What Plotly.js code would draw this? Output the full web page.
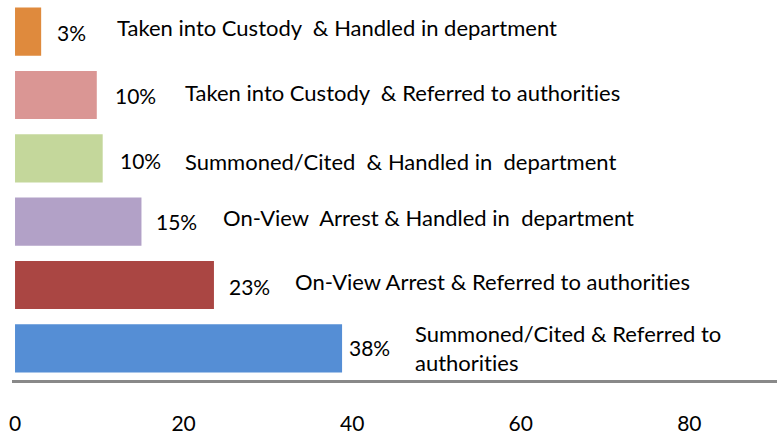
<!DOCTYPE html>
<html>
<head>
<meta charset="utf-8">
<script src="https://cdn.plot.ly/plotly-3.0.1.min.js"></script>
<style>html,body{margin:0;padding:0;background:#fff;}#chart{width:777px;height:434px;}text{font-variant-ligatures:none;font-feature-settings:"liga" 0;}</style>
</head>
<body>
<div id="chart"></div>
<script>
// ---- data ----
var categories = [
  "Taken into Custody & Handled in department",
  "Taken into Custody & Referred to authorities",
  "Summoned/Cited & Handled in department",
  "On-View Arrest & Handled in department",
  "On-View Arrest & Referred to authorities",
  "Summoned/Cited & Referred to authorities"
];
var values = [3.1, 9.7, 10.4, 15.0, 23.6, 38.8];
var pctLabels = ["3%", "10%", "10%", "15%", "23%", "38%"];
var categoryLabels = [
  "Taken into Custody &nbsp;& Handled in department",
  "Taken into Custody &nbsp;& Referred to authorities",
  "Summoned/Cited &nbsp;& Handled in &nbsp;department",
  "On-View &nbsp;Arrest & Handled in &nbsp;department",
  "On-View Arrest & Referred to authorities",
  "Summoned/Cited & Referred to<br>authorities"
];
var tickVals = [0, 20, 40, 60, 80];

// ---- style ----
var colors = ["#DF8A3D", "#DA9694", "#C4D79B", "#B2A1C7", "#AA4643", "#558ED5"];
var pctShiftX = [14, 16, 15, 13, 13, 5];
var pctShiftY = [-1, 0, -2, 0, -1, 1];
var catShiftX = [74, 86, 80, 80, 79, 71];
var catShiftY = [4, 3, -3, 4, 4, 0];
var FONT = "Lato, 'Open Sans', sans-serif";

var annotations = [];
for (var i = 0; i < categories.length; i++) {
  annotations.push({
    x: values[i], y: categories[i], xref: "x", yref: "y",
    text: pctLabels[i], showarrow: false, xanchor: "left", yanchor: "middle",
    xshift: pctShiftX[i], yshift: pctShiftY[i],
    font: {family: FONT, size: 21, color: "#000"}
  });
  annotations.push({
    x: values[i], y: categories[i], xref: "x", yref: "y",
    text: categoryLabels[i], showarrow: false, xanchor: "left", yanchor: "middle", align: "left",
    xshift: catShiftX[i], yshift: catShiftY[i],
    font: {family: FONT, size: 22, color: "#000"}
  });
}

var trace = {
  type: "bar", orientation: "h",
  x: values, y: categories,
  marker: {color: colors},
  hoverinfo: "skip"
};

var layout = {
  width: 777, height: 434,
  margin: {l: 12, r: 0, t: 0, b: 54},
  paper_bgcolor: "#fff", plot_bgcolor: "#fff",
  bargap: 0.24,
  showlegend: false,
  xaxis: {
    range: [-0.36, 90.4],
    tickmode: "array", tickvals: tickVals,
    showgrid: false, zeroline: false,
    showline: true, linecolor: "#898989", linewidth: 3,
    ticks: "", ticklabelstandoff: 23,
    tickfont: {family: FONT, size: 21, color: "#000"}
  },
  yaxis: {
    type: "category", categoryorder: "array", categoryarray: categories,
    autorange: "reversed",
    showticklabels: false, showgrid: false, zeroline: false, showline: false, ticks: ""
  },
  annotations: annotations
};

Plotly.newPlot("chart", [trace], layout, {staticPlot: true, displayModeBar: false});
</script>
</body>
</html>
